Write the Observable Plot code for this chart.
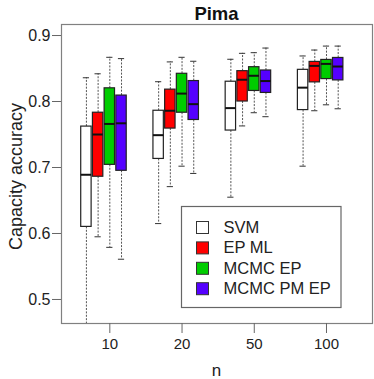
<!DOCTYPE html>
<html>
<head>
<meta charset="utf-8">
<script src="https://cdn.jsdelivr.net/npm/d3@7"></script>
<script src="https://cdn.jsdelivr.net/npm/@observablehq/plot@0.6"></script>
<style>
  html, body { margin: 0; padding: 0; background: #fff; }
  svg { font-family: "Liberation Sans", Arial, sans-serif; }
</style>
</head>
<body>
<div id="chart"></div>
<script>
// ---- data ----
const nLabels = ["10", "20", "50", "100"];
const methods = ["SVM", "EP ML", "MCMC EP", "MCMC PM EP"];
const colors = ["#ffffff", "#ff0000", "#00cd00", "#5500ff"];
const yTicks = [0.5, 0.6, 0.7, 0.8, 0.9];

const svmLow  = [0.450, 0.615, 0.655, 0.702];
const svmQ1   = [0.610, 0.713, 0.756, 0.787];
const svmMed  = [0.689, 0.749, 0.790, 0.821];
const svmQ3   = [0.762, 0.786, 0.830, 0.848];
const svmHigh = [0.836, 0.830, 0.864, 0.869];

const epLow  = [0.595, 0.671, 0.763, 0.786];
const epQ1   = [0.686, 0.759, 0.800, 0.829];
const epMed  = [0.750, 0.786, 0.833, 0.854];
const epQ3   = [0.783, 0.818, 0.846, 0.860];
const epHigh = [0.842, 0.860, 0.873, 0.878];

const mcLow  = [0.579, 0.702, 0.783, 0.795];
const mcQ1   = [0.704, 0.783, 0.816, 0.834];
const mcMed  = [0.766, 0.812, 0.839, 0.857];
const mcQ3   = [0.820, 0.842, 0.852, 0.863];
const mcHigh = [0.867, 0.867, 0.874, 0.884];

const pmLow  = [0.561, 0.691, 0.777, 0.789];
const pmQ1   = [0.695, 0.772, 0.813, 0.832];
const pmMed  = [0.767, 0.796, 0.831, 0.853];
const pmQ3   = [0.809, 0.831, 0.847, 0.866];
const pmHigh = [0.865, 0.861, 0.881, 0.884];

const stats = [
  [svmLow, svmQ1, svmMed, svmQ3, svmHigh],
  [epLow, epQ1, epMed, epQ3, epHigh],
  [mcLow, mcQ1, mcMed, mcQ3, mcHigh],
  [pmLow, pmQ1, pmMed, pmQ3, pmHigh]
];

// ---- build table ----
const offsets = [-0.324, -0.162, 0, 0.162];
const halfW = 0.072, capW = 0.043;
const rows = [];
methods.forEach((m, mi) => {
  nLabels.forEach((n, ni) => {
    const [lo, q1, md, q3, hi] = stats[mi].map(a => a[ni]);
    const x = ni + 1 + offsets[mi];
    rows.push({method: m, color: colors[mi], n, x, lo, q1, md, q3, hi});
  });
});

const W = 374, H = 379;
const mL = 61, mT = 24, mR = 2, mB = 56;
const plot = Plot.plot({
  width: W, height: H,
  marginLeft: mL, marginTop: mT, marginRight: mR, marginBottom: mB,
  style: {fontFamily: '"Liberation Sans", Arial, sans-serif', background: "#fff"},
  x: {type: "linear", domain: [0.331, 4.637]},
  y: {domain: [0.4636, 0.9167]},
  marks: [
    // whiskers
    Plot.ruleX(rows, {x: "x", y1: "q3", y2: "hi", stroke: "#555", strokeWidth: 1, strokeDasharray: "2,1.4", clip: true}),
    Plot.ruleX(rows, {x: "x", y1: "q1", y2: "lo", stroke: "#555", strokeWidth: 1, strokeDasharray: "2,1.4", clip: true}),
    // caps
    Plot.ruleY(rows, {y: "hi", x1: d => d.x - capW, x2: d => d.x + capW, stroke: "#333", strokeWidth: 1, clip: true}),
    Plot.ruleY(rows, {y: "lo", x1: d => d.x - capW, x2: d => d.x + capW, stroke: "#333", strokeWidth: 1, clip: true}),
    // boxes
    Plot.rect(rows, {x1: d => d.x - halfW, x2: d => d.x + halfW, y1: "q1", y2: "q3", fill: "color", stroke: "#222", strokeWidth: 1.2, clip: true}),
    // medians
    Plot.ruleY(rows, {y: "md", x1: d => d.x - halfW, x2: d => d.x + halfW, stroke: "#111", strokeWidth: 2}),
    Plot.frame({stroke: "#808080", strokeWidth: 1.2}),
    Plot.axisX({ticks: [1, 2, 3, 4], tickFormat: i => nLabels[i - 1], tickSize: 10, tickPadding: 5, fontSize: 15, stroke: "#666", color: "#222", label: null}),
    Plot.axisY({ticks: yTicks, tickFormat: d3.format(".1f"), tickSize: 9, tickPadding: 2, fontSize: 16, stroke: "#666", color: "#222", label: null})
  ]
});
document.getElementById("chart").appendChild(plot);

const svg = d3.select(plot);
const plotCx = mL + (W - mL - mR) / 2;
const plotCy = mT + (H - mT - mB) / 2;
// title
svg.append("text").attr("x", plotCx).attr("y", 19.5).attr("text-anchor", "middle")
  .attr("font-size", 18.5).attr("font-weight", "bold").attr("fill", "#111").text("Pima");
// axis labels
svg.append("text").attr("x", plotCx).attr("y", 376).attr("text-anchor", "middle")
  .attr("font-size", 17).attr("fill", "#222").text("n");
svg.append("text").attr("transform", `translate(22,${plotCy + 3}) rotate(-90)`).attr("text-anchor", "middle")
  .attr("font-size", 18).attr("fill", "#222").text("Capacity accuracy");

// legend (inside the plot area)
const lg = svg.append("g").attr("transform", "translate(181.5,206.5)");
lg.append("rect").attr("width", 159.5).attr("height", 101).attr("fill", "#fff").attr("stroke", "#666").attr("stroke-width", 1.2);
methods.forEach((m, i) => {
  const cy = 21 + i * 20.4;
  lg.append("rect").attr("x", 15).attr("y", cy - 6).attr("width", 12).attr("height", 12)
    .attr("fill", colors[i]).attr("stroke", "#333").attr("stroke-width", 1);
  lg.append("text").attr("x", 42).attr("y", cy + 5.5).attr("text-anchor", "start")
    .attr("font-size", 16.5).attr("fill", "#222").text(m);
});
</script>
</body>
</html>
